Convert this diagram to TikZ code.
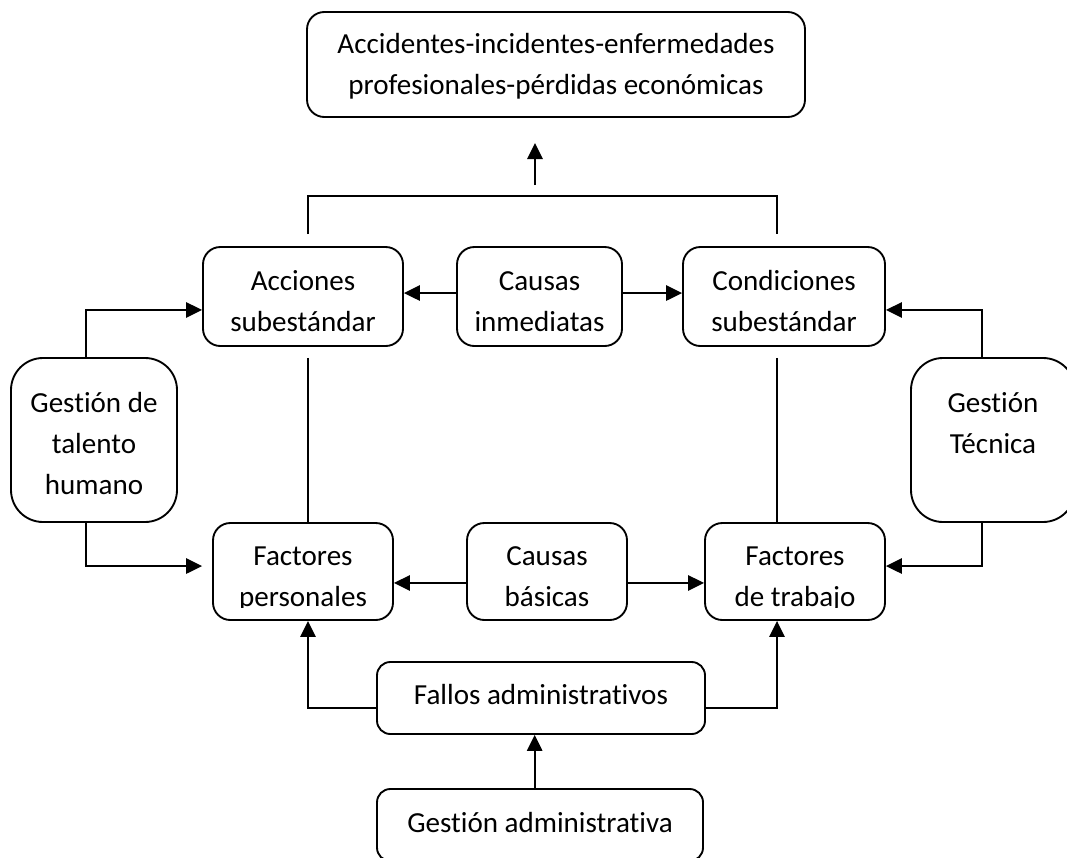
\documentclass[tikz,border=0pt]{standalone}
\usepackage{fontspec}
\setmainfont[Ligatures={NoCommon}]{Carlito}
\usetikzlibrary{arrows.meta}
\begin{document}
\begin{tikzpicture}[x=0.75pt,y=-0.75pt,
  every node/.style={font=\fontsize{21.8pt}{30.75pt}\selectfont, align=center, inner sep=0pt},
  rbox/.style n args={3}{draw, line width=1.4pt, rounded corners=#3,
    minimum width=#1*0.75pt, minimum height=#2*0.75pt},
  link/.style={line width=1.4pt},
  arr/.style={link, -{Triangle[length=12pt,width=11.5pt]}}]

\useasboundingbox (0,0) rectangle (1067,857);
\clip (0,0) rectangle (1067,857);

% outcome
\node[rbox={498}{105}{13pt}] (top) at (556,64.5) {};
\node (top-t) at ([yshift=-0.6pt]top.center)
  {\strut Accidentes-incidentes-enfermedades\\profesionales-pérdidas económicas\strut};

% immediate causes row
\node[rbox={200}{99}{13pt}] (acc) at (303,296.5) {};
\node[rbox={165}{99}{13pt}] (ci) at (539.5,296.5) {};
\node[rbox={202}{99}{13pt}] (cond) at (784,296.5) {};
\node (acc-t) at ([yshift=-4.35pt]acc.center) {\strut Acciones\\subestándar\strut};
\node (ci-t) at ([yshift=-4.35pt]ci.center) {\strut Causas\\inmediatas\strut};
\node (cond-t) at ([yshift=-4.35pt]cond.center) {\strut Condiciones\\subestándar\strut};

% management side boxes
\node[rbox={166}{164}{24pt}] (gth) at (94,440) {};
\node[rbox={164}{164}{24pt}] (gt) at (993,440) {};
\node (gth-t) at ([yshift=-3.6pt]gth.center) {\strut Gestión de\\talento\\humano\strut};
\node (gt-t) at ([yshift=-3.6pt]gt.center) {\strut Gestión\\Técnica\\\strut};

% basic causes row (labels cut at the lower text edge)
\node[rbox={180}{97}{13pt}] (fp) at (303,571.5) {};
\node[rbox={160}{97}{13pt}] (cb) at (547,571.5) {};
\node[rbox={180}{97}{13pt}] (ft) at (795,571.5) {};
\begin{scope}
  \clip (0,0) rectangle (1067,607);
  \node (fp-t) at (303,577.3) {\strut Factores\\personales\strut};
  \node (cb-t) at (547,577.3) {\strut Causas\\básicas\strut};
  \node (ft-t) at (795,577.3) {\strut Factores\\de trabajo\strut};
\end{scope}

% administration
\node[rbox={328}{72}{10pt}] (fa) at (541,698) {};
\node[rbox={326}{72}{10pt}] (ga) at (540,825) {};
\node (fa-t) at ([yshift=1.5pt]fa.center) {\strut Fallos administrativos};
\node (ga-t) at ([yshift=0.9pt]ga.center) {\strut Gestión administrativa};

% bracket joining the immediate causes, arrow towards the outcome
\draw[link] ([xshift=3.75pt,yshift=9pt]acc.north) -- ++(0,-38)
  -| ([xshift=-5.25pt,yshift=9pt]cond.north);
\coordinate (up0) at (535,185);
\draw[arr] (up0) -- (up0 |- 0,143);

% immediate causes
\draw[arr] ([yshift=2.6pt]ci.west) -- ([yshift=2.6pt]acc.east);
\draw[arr] ([yshift=2.6pt]ci.east) -- ([yshift=2.6pt]cond.west);

% links between rows
\draw[link] ([xshift=3.75pt,yshift=-8.25pt]acc.south) -- ([xshift=3.75pt]fp.north);
\draw[link] ([xshift=-5.25pt,yshift=-8.25pt]cond.south) -- ([xshift=-13.5pt]ft.north);

% human talent management
\draw[arr] ([xshift=-6pt]gth.north) |- ([yshift=-10.1pt]acc.west);
\draw[arr] ([xshift=-6pt]gth.south) |- ([xshift=-7.5pt,yshift=4.1pt]fp.west);

% technical management
\draw[arr] ([xshift=-8.25pt]gt.north) |- ([yshift=-10.1pt]cond.east);
\draw[arr] ([xshift=-8.25pt]gt.south) |- ([yshift=4.1pt]ft.east);

% basic causes
\draw[arr] ([yshift=-8.6pt]cb.west) -- ([yshift=-8.6pt]fp.east);
\draw[arr] ([yshift=-8.6pt]cb.east) -- ([yshift=-8.6pt]ft.west);

% administrative failures
\draw[arr] ([yshift=-7.5pt]fa.west) -| ([xshift=3.75pt]fp.south);
\draw[arr] ([yshift=-7.5pt]fa.east) -| ([xshift=-13.5pt]ft.south);
\draw[arr] ([xshift=-4pt]ga.north) -- ([xshift=-4pt]ga.north |- fa.south);

\end{tikzpicture}
\end{document}
